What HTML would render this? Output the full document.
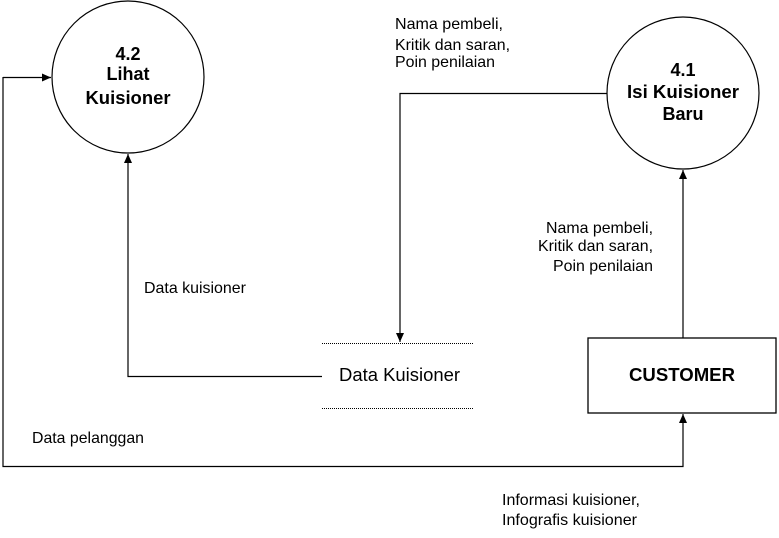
<!DOCTYPE html>
<html><head><meta charset="utf-8"><style>
html,body{margin:0;padding:0;background:#fff;}
svg{display:block;}
text{font-family:"Liberation Sans",Arial,sans-serif;fill:#000;}
</style></head><body>
<svg width="779" height="538" viewBox="0 0 779 538" xmlns="http://www.w3.org/2000/svg">
<defs><marker id="a" markerWidth="10" markerHeight="10" refX="9" refY="5" orient="auto" markerUnits="userSpaceOnUse"><path d="M0,1 L9,5 L0,9 Z" fill="#000"/></marker></defs>
<circle cx="128" cy="77" r="76" fill="#fff" stroke="#000" stroke-width="1.2"/>
<text x="128" y="60" font-size="18" font-weight="bold" text-anchor="middle">4.2</text>
<text x="128" y="80" font-size="18" font-weight="bold" text-anchor="middle">Lihat</text>
<text x="128" y="104" font-size="18" font-weight="bold" text-anchor="middle" textLength="85" lengthAdjust="spacingAndGlyphs">Kuisioner</text>
<circle cx="683" cy="93" r="76" fill="#fff" stroke="#000" stroke-width="1.2"/>
<text x="683" y="76" font-size="18" font-weight="bold" text-anchor="middle">4.1</text>
<text x="683" y="98" font-size="18" font-weight="bold" text-anchor="middle" textLength="112" lengthAdjust="spacingAndGlyphs">Isi Kuisioner</text>
<text x="683" y="120" font-size="18" font-weight="bold" text-anchor="middle">Baru</text>
<rect x="588" y="338" width="188" height="75" fill="#fff" stroke="#000" stroke-width="1.3"/>
<text x="682" y="381" font-size="18" font-weight="bold" text-anchor="middle" textLength="106" lengthAdjust="spacingAndGlyphs">CUSTOMER</text>
<line x1="322" y1="343.5" x2="474" y2="343.5" stroke="#000" stroke-dasharray="1,1"/>
<line x1="322" y1="408.5" x2="474" y2="408.5" stroke="#000" stroke-dasharray="1,1"/>
<text x="339" y="381" font-size="18" textLength="121" lengthAdjust="spacingAndGlyphs">Data Kuisioner</text>
<polyline points="322,376.5 128,376.5 128,154" fill="none" stroke="#000" stroke-width="1.2" marker-end="url(#a)"/>
<polyline points="607,93.5 400,93.5 400,342" fill="none" stroke="#000" stroke-width="1.2" marker-end="url(#a)"/>
<line x1="683" y1="338" x2="683" y2="170" stroke="#000" stroke-width="1.2" marker-end="url(#a)"/>
<polyline points="3,77.5 51,77.5" fill="none" stroke="#000" stroke-width="1.2" marker-end="url(#a)"/>
<polyline points="3,77 3,466.5 683,466.5 683,414" fill="none" stroke="#000" stroke-width="1.2" marker-end="url(#a)"/>
<text x="144" y="293" font-size="16" textLength="102" lengthAdjust="spacingAndGlyphs">Data kuisioner</text>
<text x="395" y="29" font-size="16" textLength="108" lengthAdjust="spacingAndGlyphs">Nama pembeli,</text>
<text x="395" y="50" font-size="16" textLength="115" lengthAdjust="spacingAndGlyphs">Kritik dan saran,</text>
<text x="395" y="67" font-size="16" textLength="100" lengthAdjust="spacingAndGlyphs">Poin penilaian</text>
<text x="653" y="233" font-size="16" text-anchor="end" textLength="107" lengthAdjust="spacingAndGlyphs">Nama pembeli,</text>
<text x="653" y="251" font-size="16" text-anchor="end" textLength="115" lengthAdjust="spacingAndGlyphs">Kritik dan saran,</text>
<text x="653" y="271" font-size="16" text-anchor="end" textLength="100" lengthAdjust="spacingAndGlyphs">Poin penilaian</text>
<text x="32" y="443" font-size="16" textLength="112" lengthAdjust="spacingAndGlyphs">Data pelanggan</text>
<text x="502" y="505" font-size="16" textLength="138" lengthAdjust="spacingAndGlyphs">Informasi kuisioner,</text>
<text x="502" y="525" font-size="16" textLength="135" lengthAdjust="spacingAndGlyphs">Infografis kuisioner</text>
</svg>
</body></html>
